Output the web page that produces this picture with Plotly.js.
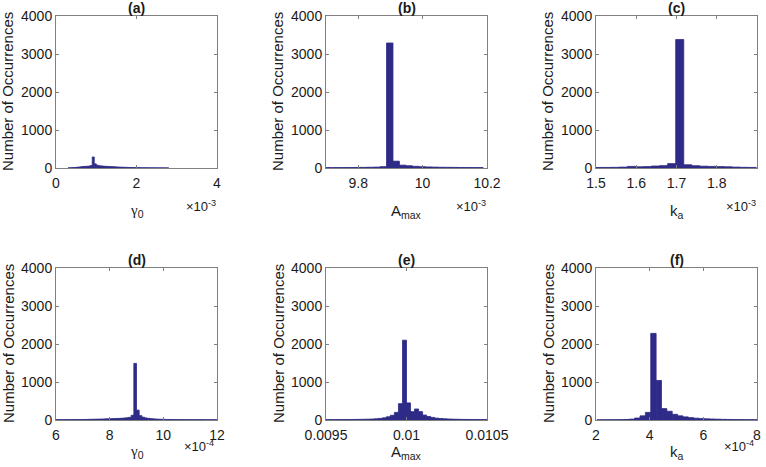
<!DOCTYPE html>
<html>
<head>
<meta charset="utf-8">
<script src="https://cdn.plot.ly/plotly-3.0.1.min.js"></script>
<style>html,body{margin:0;padding:0;background:#fff;}#chart{width:766px;height:467px;}</style>
</head>
<body>
<div id="chart"></div>
<script>
// ---------------- data ----------------
// (a) gamma_0, units of 1e-3
const aStart = 0.30, aWidth = 0.05;
const aCounts = [4,6,10,14,20,26,32,38,42,46, 50,65,290,110,75,60,55,50,46,42,
                 40,37,34,31,28,25,22,20,18,16, 14,12,11,10,9,8,7,6,6,5, 5,4,4,4,3,3,3,2,2,2];
// (b) A_max, units of 1e-3
const bStart = 9.688, bWidth = 0.02;
const bCounts = [10,10,11,12,13,15,17,20,24,35,3290,180,75,60,45,35,28,24,20,18,16,14,13,12,11];
// (c) k_a, units of 1e-3
const cStart = 1.498, cWidth = 0.02;
const cCounts = [14,15,18,24,42,32,38,52,62,115,3380,85,60,48,42,37,32,24,18,15];
// (d) gamma_0, units of 1e-4
const dStart = 6.0, dWidth = 0.1;
const dCounts = [8,8,9,9,10,10,11,11,12,13, 14,15,17,19,21,23,25,27,30,33,
                 35,37,40,43,47,52,60,70,125,1490, 260,115,75,55,44,36,30,25,21,18,
                 16,14,13,12,11,10,10,9,9,9, 8,8,8,8,8,7,7,7,7,7];
// (e) A_max
const eStart = 0.0095, eWidth = 0.000025;
const eCounts = [10,10,11,11,12,13,14,15,17,19, 22,26,32,42,58,85,125,200,430,2100,
                 450,220,290,220,130,92,68,50,40,33, 27,23,20,17,15,14,13,12,11,10];
// (f) k_a, units of 1e-4
const fStart = 2.04, fWidth = 0.2;
const fCounts = [6,6,7,8,10,14,24,52,110,200, 2280,1040,300,230,150,110,82,62,48,38,
                 31,26,22,18,15,13,11,10,9,8];

const panelTitles = ['(a)','(b)','(c)','(d)','(e)','(f)'];
const GAMMA = '<span style="font-family:Liberation Serif, Times New Roman, serif">γ</span><sub>0</sub>';
const xLabels = [GAMMA,'A<sub>max</sub>','k<sub>a</sub>',GAMMA,'A<sub>max</sub>','k<sub>a</sub>'];
const xExponents = ['×10<sup>-3</sup>','×10<sup>-3</sup>','×10<sup>-3</sup>','×10<sup>-4</sup>','','×10<sup>-4</sup>'];
const xRanges = [[0,4],[9.7,10.2],[1.5,1.9],[6,12],[0.0095,0.0105],[2,8]];
const xTickVals = [[0,2,4],[9.8,10,10.2],[1.5,1.6,1.7,1.8,1.9],[6,8,10,12],[0.0095,0.01,0.0105],[2,4,6,8]];
const xTickText = [['0','2','4'],['9.8','10','10.2'],['1.5','1.6','1.7','1.8','1.9'],['6','8','10','12'],['0.0095','0.01','0.0105'],['2','4','6','8']];
const yTickVals = [0,1000,2000,3000,4000];
const yLabel = 'Number of Occurrences';

const hists = [[aStart,aWidth,aCounts],[bStart,bWidth,bCounts],[cStart,cWidth,cCounts],
               [dStart,dWidth,dCounts],[eStart,eWidth,eCounts],[fStart,fWidth,fCounts]];

// ---------------- layout ----------------
const W = 766, H = 467;
const px = v => v / W, py = v => 1 - v / H;
const colLeft = [56, 326, 596], colW = 161;
const rowTop = [16, 268], rowH = 152;
const barColor = '#2d2b87';
const axisColor = '#808080';
const textColor = '#1a1a1a';
const FONT = 'Liberation Sans, Arial, Helvetica, sans-serif';

const traces = [];
const layout = {
  width: W, height: H, margin: {l:0,r:0,t:0,b:0},
  paper_bgcolor: '#fff', plot_bgcolor: '#fff',
  showlegend: false, bargap: 0,
  font: {family: FONT, size: 14, color: textColor},
  annotations: []
};

hists.forEach((h, i) => {
  const [start, width, counts] = h;
  const centers = counts.map((_, k) => start + width * (k + 0.5));
  const n = i + 1;
  const xa = n === 1 ? 'x' : 'x' + n, ya = n === 1 ? 'y' : 'y' + n;
  traces.push({
    type: 'bar', x: centers, y: counts, width: width,
    xaxis: xa, yaxis: ya,
    marker: {color: barColor, line: {width: 0.8, color: barColor}},
    hoverinfo: 'x+y'
  });
  const col = i % 3, row = Math.floor(i / 3);
  const L = colLeft[col], T = rowTop[row];
  const xKey = n === 1 ? 'xaxis' : 'xaxis' + n, yKey = n === 1 ? 'yaxis' : 'yaxis' + n;
  layout[xKey] = {
    domain: [px(L), px(L + colW)], anchor: ya, range: xRanges[i],
    tickmode: 'array', tickvals: xTickVals[i], ticktext: xTickText[i],
    ticks: 'inside', ticklen: 3, tickcolor: axisColor, tickwidth: 1,
    ticklabelstandoff: 2,
    showline: true, linecolor: axisColor, linewidth: 1, mirror: 'ticks',
    showgrid: false, zeroline: false, fixedrange: true,
    tickfont: {family: FONT, size: 14, color: textColor}
  };
  layout[yKey] = {
    domain: [py(T + rowH), py(T)], anchor: xa, range: [0, 4000],
    tickmode: 'array', tickvals: yTickVals,
    ticks: 'inside', ticklen: 3, tickcolor: axisColor, tickwidth: 1,
    showline: true, linecolor: axisColor, linewidth: 1, mirror: 'ticks',
    showgrid: false, zeroline: false, fixedrange: true,
    tickfont: {family: FONT, size: 14, color: textColor}
  };
  // panel title
  layout.annotations.push({
    xref: 'paper', yref: 'paper', x: px(L + colW / 2), y: py(T - 8),
    xanchor: 'center', yanchor: 'middle', showarrow: false,
    text: '<b>' + panelTitles[i] + '</b>', font: {family: FONT, size: 14, color: textColor}
  });
  // y title
  layout.annotations.push({
    xref: 'paper', yref: 'paper', x: px(L - 48), y: py(T + rowH / 2),
    xanchor: 'center', yanchor: 'middle', showarrow: false, textangle: -90,
    text: yLabel, font: {family: FONT, size: 15, color: textColor}
  });
  // x label
  const labY = row === 0 ? 211 : 452;
  layout.annotations.push({
    xref: 'paper', yref: 'paper', x: px(L + colW / 2), y: py(labY),
    xanchor: 'center', yanchor: 'middle', showarrow: false,
    text: xLabels[i], font: {family: FONT, size: 15, color: textColor}
  });
  if (xExponents[i]) {
    const expY = row === 0 ? 206 : 446;
    const expX = row === 0 ? L + colW + 1 : L + colW - 1;
    layout.annotations.push({
      xref: 'paper', yref: 'paper', x: px(expX), y: py(expY),
      xanchor: 'right', yanchor: 'middle', showarrow: false,
      text: xExponents[i], font: {family: FONT, size: 13, color: textColor}
    });
  }
});

Plotly.newPlot('chart', traces, layout, {displayModeBar: false, staticPlot: true});
</script>
</body>
</html>
